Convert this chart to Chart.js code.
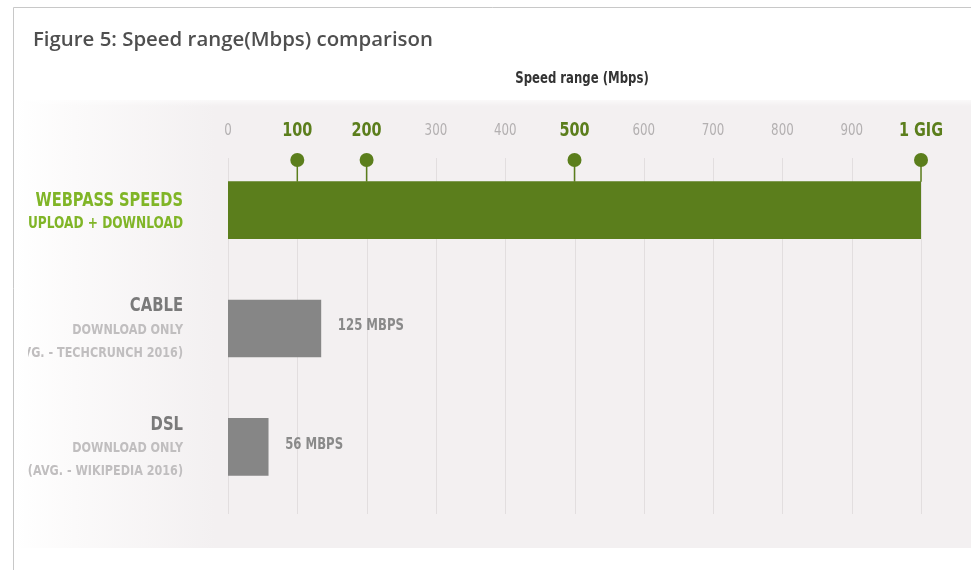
<!DOCTYPE html>
<html>
<head>
<meta charset="utf-8">
<script src="https://cdn.jsdelivr.net/npm/chart.js@4"></script>
<style>
  html, body { margin: 0; padding: 0; background: #fff; }
  #wrap { position: relative; width: 971px; height: 570px; }
</style>
</head>
<body>
<div id="wrap"><canvas id="speedChart" width="971" height="570"></canvas></div>
<script>
// dados do grafico
var categorias = ['WEBPASS SPEEDS', 'CABLE', 'DSL'];
var subtitulos = [['UPLOAD + DOWNLOAD'], ['DOWNLOAD ONLY', '(AVG. - TECHCRUNCH 2016)'], ['DOWNLOAD ONLY', '(AVG. - WIKIPEDIA 2016)']];
var velocidades = [1000, 134, 58];
var rotulosValor = ['', '125 MBPS', '56 MBPS'];
var ticksValor = [0, 100, 200, 300, 400, 500, 600, 700, 800, 900, 1000];
var ticksTexto = ['0', '100', '200', '300', '400', '500', '600', '700', '800', '900', '1 GIG'];
var destaques = [100, 200, 500, 1000];

var verde = '#5b7e1c';
var verdeClaro = '#80b527';
var cinzaBarra = '#868686';
var fonte = '"DejaVu Sans", sans-serif';

// escreve texto "condensado" (escala horizontal)
function texto(ctx, str, x, y, align, sx){
    ctx.save();
    ctx.translate(x, y);
    ctx.scale(sx, 1);
    ctx.textAlign = align;
    ctx.fillText(str, 0, 0);
    ctx.restore();
}

// fundo, moldura, titulo e linhas de grade
var fundoPlugin = {
    id: 'fundo',
    beforeDraw: function(chart){
        var ctx = chart.ctx;
        ctx.save();
        ctx.fillStyle = '#fff';
        ctx.fillRect(0, 0, 971, 570);
        // painel cinza com degrade na esquerda
        var g = ctx.createLinearGradient(14, 0, 215, 0);
        g.addColorStop(0, '#ffffff');
        g.addColorStop(0.3, '#fbfafa');
        g.addColorStop(1, '#f3f0f1');
        ctx.fillStyle = g;
        ctx.fillRect(14, 100, 957, 448);
        var gv = ctx.createLinearGradient(0, 96, 0, 106);
        gv.addColorStop(0, 'rgba(255,255,255,1)');
        gv.addColorStop(1, 'rgba(255,255,255,0)');
        ctx.fillStyle = gv;
        ctx.fillRect(14, 96, 957, 10);
        // moldura
        ctx.strokeStyle = '#c8c8c8';
        ctx.lineWidth = 1;
        ctx.beginPath();
        ctx.moveTo(13.5, 570);
        ctx.lineTo(13.5, 7.5);
        ctx.lineTo(971, 7.5);
        ctx.stroke();
        // titulos
        ctx.fillStyle = '#4f4f4f';
        ctx.font = '600 20.4px "Open Sans", sans-serif';
        ctx.textBaseline = 'middle';
        ctx.textAlign = 'left';
        ctx.fillText('Figure 5: Speed range(Mbps) comparison', 33, 40);
        ctx.fillStyle = '#333';
        ctx.font = 'bold 15px ' + fonte;
        texto(ctx, 'Speed range (Mbps)', 582, 79, 'center', 0.78);
        ctx.restore();
    },
    beforeDatasetsDraw: function(chart){
        var ctx = chart.ctx;
        var x = chart.scales.x;
        var area = chart.chartArea;
        ctx.save();
        ctx.strokeStyle = '#e2dedf';
        ctx.lineWidth = 1;
        ticksValor.forEach(function(v){
            var px = Math.round(x.getPixelForValue(v)) + 0.5;
            ctx.beginPath();
            ctx.moveTo(px, area.top + 7);
            ctx.lineTo(px, area.bottom + 8);
            ctx.stroke();
        });
        ctx.restore();
    },
    afterDatasetsDraw: function(chart){
        var ctx = chart.ctx;
        var x = chart.scales.x;
        var y = chart.scales.y;
        ctx.save();
        ctx.textBaseline = 'middle';
        // rotulos do eixo x
        ticksValor.forEach(function(v, i){
            var px = x.getPixelForValue(v);
            if(destaques.indexOf(v) >= 0){
                ctx.fillStyle = verde;
                ctx.font = 'bold 19px ' + fonte;
                texto(ctx, ticksTexto[i], px, 131, 'center', 0.76);
            }else{
                ctx.fillStyle = '#b3b0b1';
                ctx.font = '15px ' + fonte;
                texto(ctx, ticksTexto[i], px, 131, 'center', 0.79);
            }
        });
        // marcadores
        var meta = chart.getDatasetMeta(0);
        var topoBarra = meta.data[0].y - meta.data[0].height / 2;
        destaques.forEach(function(v){
            var px = x.getPixelForValue(v);
            ctx.strokeStyle = verde;
            ctx.lineWidth = 1.5;
            ctx.beginPath();
            ctx.moveTo(px, 160);
            ctx.lineTo(px, topoBarra);
            ctx.stroke();
            ctx.fillStyle = verde;
            ctx.beginPath();
            ctx.arc(px, 160, 7, 0, Math.PI * 2);
            ctx.fill();
        });
        // rotulos das categorias (recortados na esquerda)
        ctx.save();
        ctx.beginPath();
        ctx.rect(28, 0, 943, 570);
        ctx.clip();
        categorias.forEach(function(c, i){
            var py = y.getPixelForValue(i);
            if(i == 0){
                ctx.fillStyle = verdeClaro;
                ctx.font = 'bold 19px ' + fonte;
                texto(ctx, c, 183, py - 9, 'right', 0.77);
                ctx.font = 'bold 16px ' + fonte;
                texto(ctx, subtitulos[i][0], 183, py + 14, 'right', 0.76);
            }else{
                ctx.fillStyle = '#7a7a7a';
                ctx.font = 'bold 19px ' + fonte;
                texto(ctx, c, 183, py - 22, 'right', 0.78);
                ctx.fillStyle = '#c0bebf';
                ctx.font = 'bold 14px ' + fonte;
                texto(ctx, subtitulos[i][0], 183, py + 2, 'right', 0.8);
                texto(ctx, subtitulos[i][1], 183, py + 25, 'right', 0.8);
            }
        });
        ctx.restore();
        // rotulos de valor
        meta.data.forEach(function(bar, i){
            if(rotulosValor[i] == '') return;
            ctx.fillStyle = '#8a8a8a';
            ctx.font = 'bold 15px ' + fonte;
            texto(ctx, rotulosValor[i], bar.x + 17, bar.y - 2, 'left', 0.78);
        });
        ctx.restore();
    }
};

window.onload = function(){
    var ctx = document.getElementById('speedChart');
    new Chart(ctx, {
        type: 'bar',
        data: {
            labels: categorias,
            datasets: [{
                label: 'Speed range (Mbps)',
                data: velocidades,
                backgroundColor: [verde, cinzaBarra, cinzaBarra],
                borderWidth: 0,
                barThickness: 57
            }]
        },
        options: {
            indexAxis: 'y',
            responsive: false,
            animation: false,
            layout: { padding: { left: 228, right: 50, top: 151, bottom: 64 } },
            scales: {
                x: { display: false, min: 0, max: 1000 },
                y: { display: false }
            },
            plugins: {
                legend: { display: false },
                tooltip: { enabled: false }
            }
        },
        plugins: [fundoPlugin]
    });
};
</script>
</body>
</html>
